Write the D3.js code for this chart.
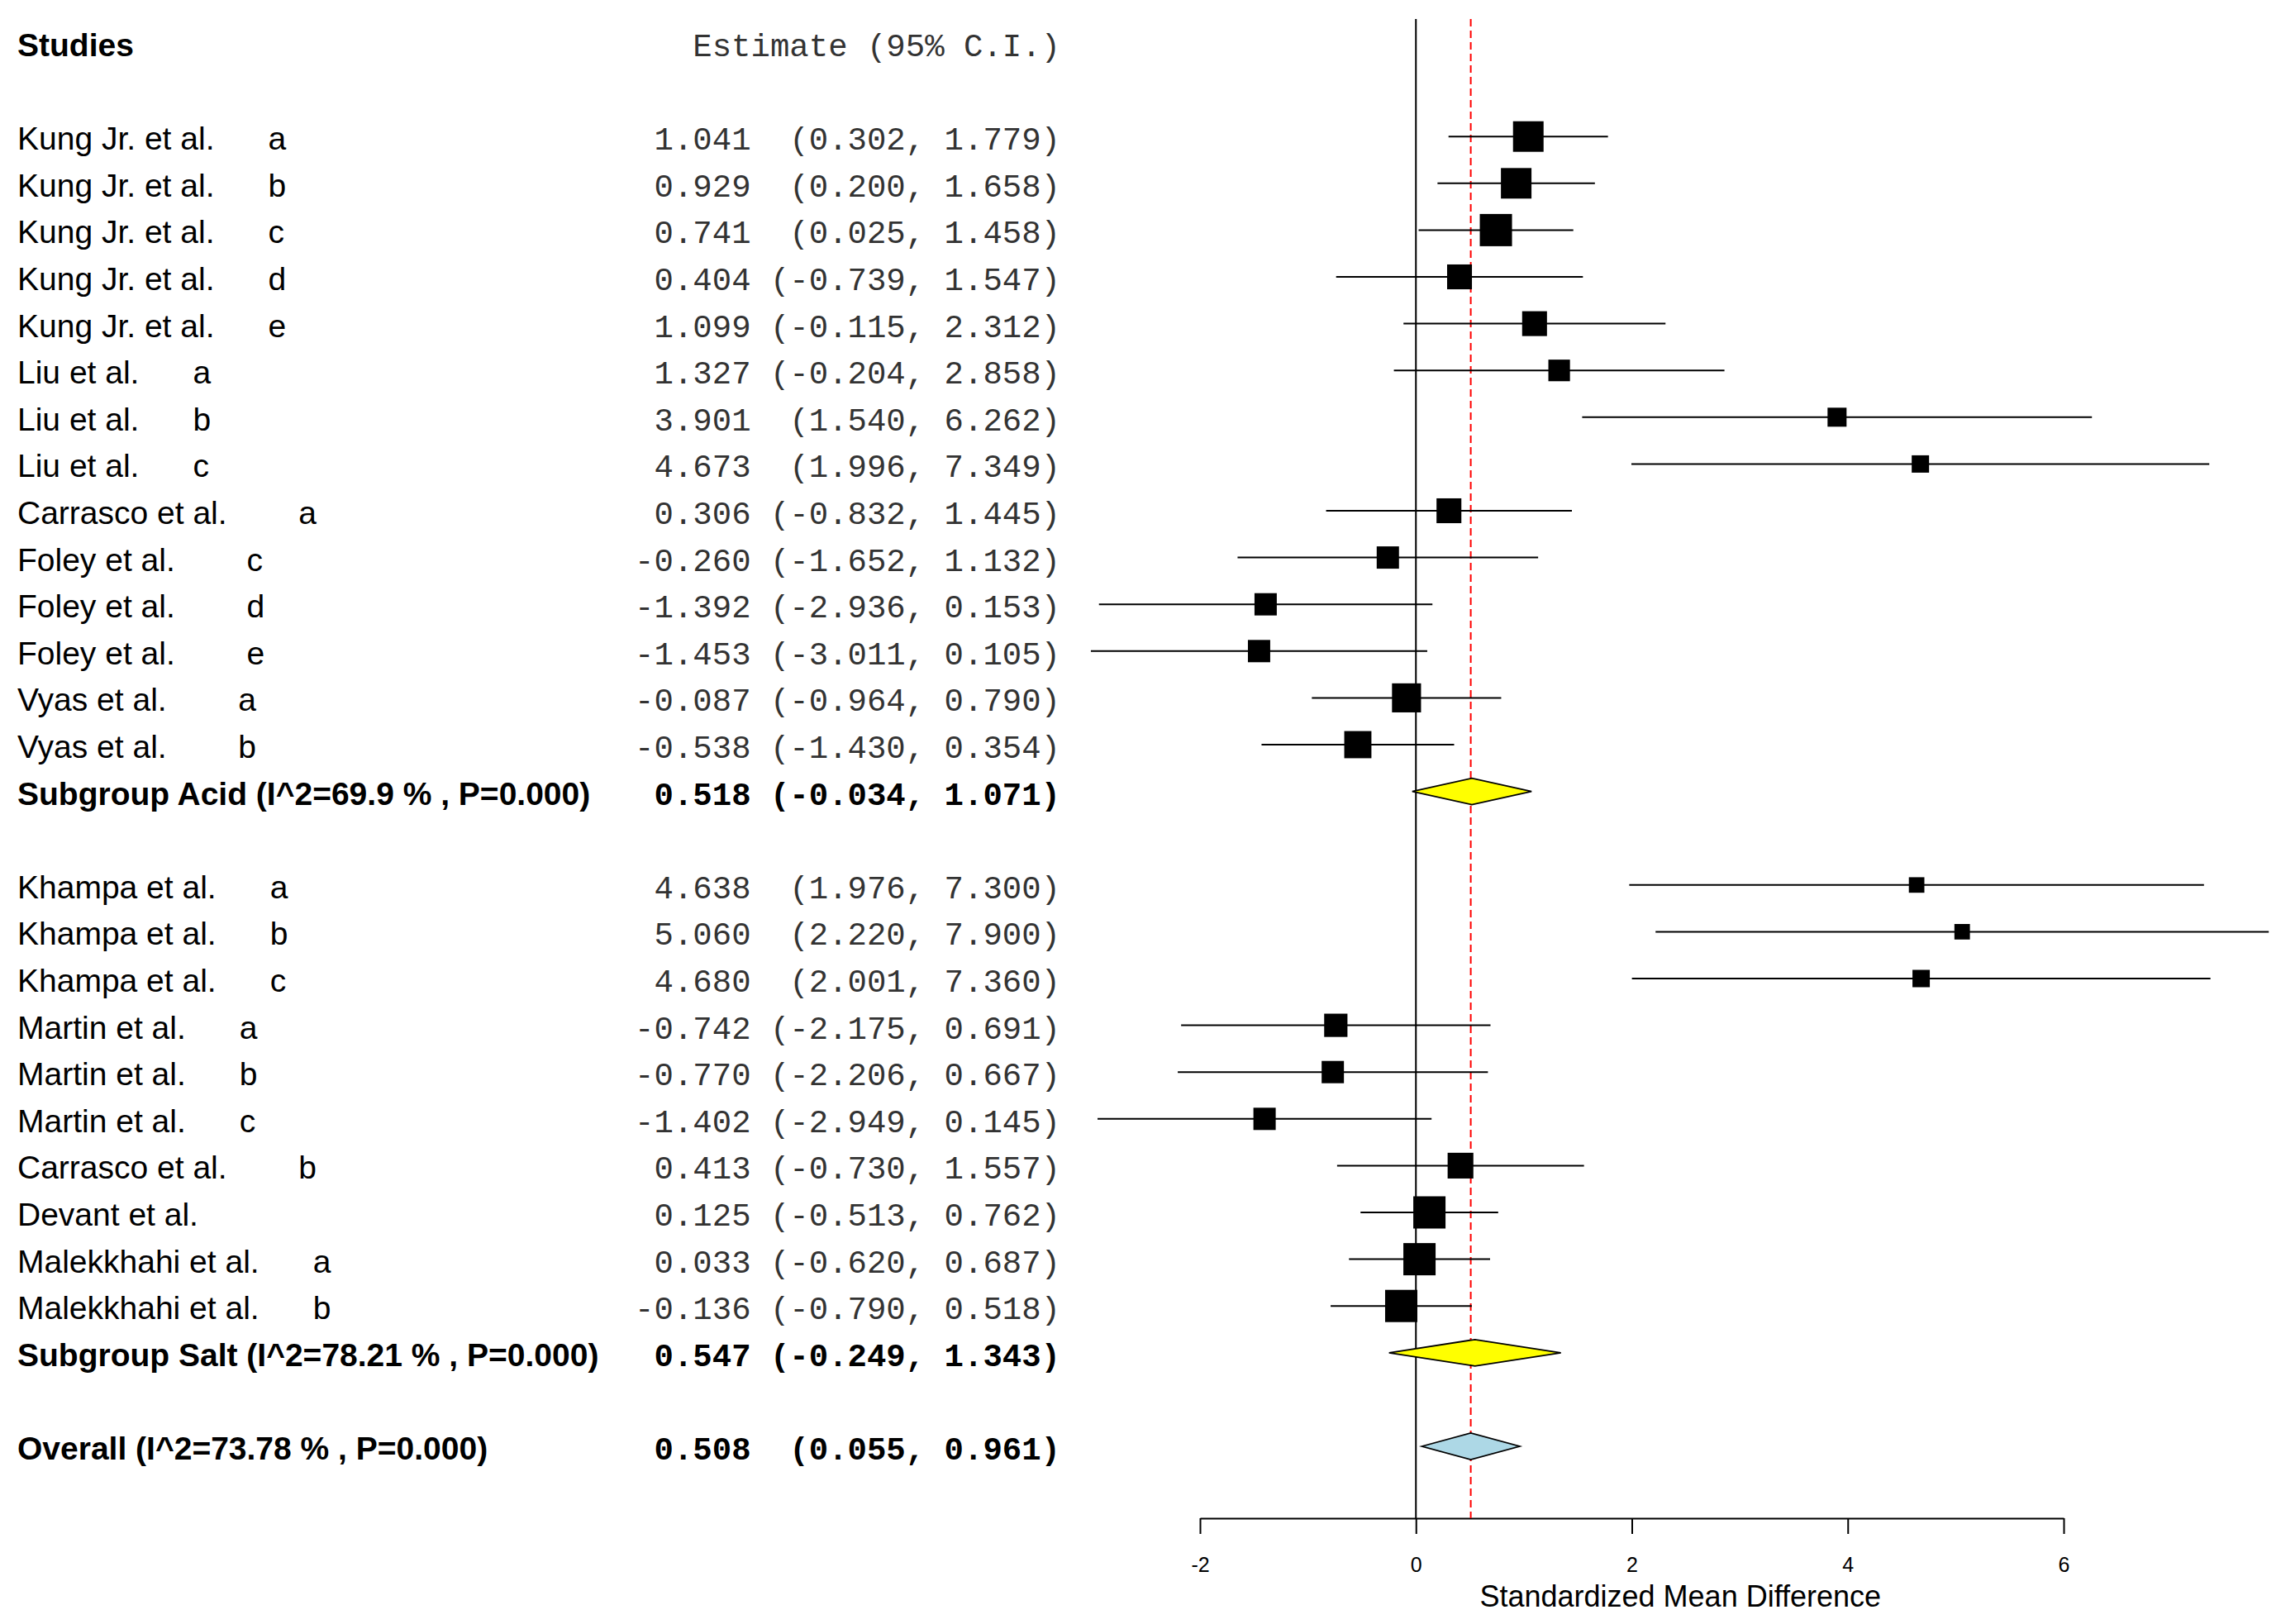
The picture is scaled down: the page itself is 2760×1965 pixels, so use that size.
<!DOCTYPE html>
<html>
<head>
<meta charset="utf-8">
<script src="https://cdn.jsdelivr.net/npm/d3@7"></script>
<style>
	body { margin: 0; background: #fff; }
	text { white-space: pre; }
</style>
</head>
<body>
<div id="forest"></div>
<script>

	// study labels (letter = sub-experiment), per subgroup
	var acidLabels = ["Kung Jr. et al.      a", "Kung Jr. et al.      b", "Kung Jr. et al.      c",
		"Kung Jr. et al.      d", "Kung Jr. et al.      e", "Liu et al.      a", "Liu et al.      b",
		"Liu et al.      c", "Carrasco et al.        a", "Foley et al.        c", "Foley et al.        d",
		"Foley et al.        e", "Vyas et al.        a", "Vyas et al.        b"];
	var acidEst = [1.041, 0.929, 0.741, 0.404, 1.099, 1.327, 3.901, 4.673, 0.306, -0.260, -1.392, -1.453, -0.087, -0.538];
	var acidLo  = [0.302, 0.200, 0.025, -0.739, -0.115, -0.204, 1.540, 1.996, -0.832, -1.652, -2.936, -3.011, -0.964, -1.430];
	var acidHi  = [1.779, 1.658, 1.458, 1.547, 2.312, 2.858, 6.262, 7.349, 1.445, 1.132, 0.153, 0.105, 0.790, 0.354];
	var acidWeight = [6.2, 6.2, 6.9, 4.1, 4.1, 3.1, 2.4, 2.0, 4.1, 3.3, 3.3, 3.3, 5.6, 4.9];

	var saltLabels = ["Khampa et al.      a", "Khampa et al.      b", "Khampa et al.      c",
		"Martin et al.      a", "Martin et al.      b", "Martin et al.      c", "Carrasco et al.        b",
		"Devant et al.", "Malekkhahi et al.      a", "Malekkhahi et al.      b"];
	var saltEst = [4.638, 5.060, 4.680, -0.742, -0.770, -1.402, 0.413, 0.125, 0.033, -0.136];
	var saltLo  = [1.976, 2.220, 2.001, -2.175, -2.206, -2.949, -0.730, -0.513, -0.620, -0.790];
	var saltHi  = [7.300, 7.900, 7.360, 0.691, 0.667, 0.145, 1.557, 0.762, 0.687, 0.518];
	var saltWeight = [1.6, 1.6, 2.0, 3.6, 3.3, 3.3, 4.4, 6.9, 6.9, 6.9];

	// pooled rows: label, estimate, lower, upper, fill
	var summaryLabels = ["Subgroup Acid (I^2=69.9 % , P=0.000)", "Subgroup Salt (I^2=78.21 % , P=0.000)", "Overall (I^2=73.78 % , P=0.000)"];
	var summaryEst = [0.518, 0.547, 0.508];
	var summaryLo  = [-0.034, -0.249, 0.055];
	var summaryHi  = [1.071, 1.343, 0.961];
	var summaryFill = ["#ffff00", "#ffff00", "#add8e6"];

	var xTicks = [-2, 0, 2, 4, 6];
	var xTitle = "Standardized Mean Difference";

	var w = 2760, h = 1965;

	var svg = d3.select("#forest")
		.append("svg")
		.attr("width", w)
		.attr("height", h)
		.attr("viewBox", "0 0 " + w + " " + h);

	// row layout: 0 header, 1 blank, 2-15 acid, 16 acid pooled, 17 blank, 18-27 salt, 28 salt pooled, 29 blank, 30 overall
	var y = d3.scaleLinear().domain([0, 30]).range([52, 1750]);
	var x = d3.scaleLinear().domain([-2, 6]).range([1452, 2497]);
	var side = d3.scaleSqrt().domain([0, 6.9]).range([0, 39]);

	var studies = [];
	for (var i = 0; i < acidLabels.length; i++) {
		studies.push({label: acidLabels[i], est: acidEst[i], lo: acidLo[i], hi: acidHi[i], wt: acidWeight[i], row: 2 + i});
	}
	for (var j = 0; j < saltLabels.length; j++) {
		studies.push({label: saltLabels[j], est: saltEst[j], lo: saltLo[j], hi: saltHi[j], wt: saltWeight[j], row: 18 + j});
	}
	var summaryRows = [16, 28, 30];
	var summaries = summaryLabels.map(function(l, k) {
		return {label: l, est: summaryEst[k], lo: summaryLo[k], hi: summaryHi[k], fill: summaryFill[k], row: summaryRows[k]};
	});

	var ciText = function(d) {
		return d.est.toFixed(3).padStart(6) + " " + ("(" + d.lo.toFixed(3)).padStart(7) + ", " + d.hi.toFixed(3).padStart(5) + ")";
	};

	var sans = "'Liberation Sans', Arial, sans-serif";
	var mono = "'Liberation Mono', 'Courier New', monospace";
	var fs = 39;
	var colRight = 1283;

	// headers
	svg.append("text")
		.attr("x", 21).attr("y", y(0) + 16)
		.style("font-family", sans).style("font-size", fs + "px").style("font-weight", "bold")
		.text("Studies");
	svg.append("text")
		.attr("x", colRight).attr("y", y(0) + 16)
		.attr("text-anchor", "end")
		.style("font-family", mono).style("font-size", fs + "px").style("fill", "#333")
		.text("Estimate (95% C.I.)");

	// left columns
	var labelG = svg.append("g").attr("id", "labels");
	labelG.selectAll("text.study")
		.data(studies)
		.enter()
		.append("text")
		.attr("class", "study")
		.attr("x", 21)
		.attr("y", function(d) { return y(d.row) + 16; })
		.style("font-family", sans).style("font-size", fs + "px")
		.text(function(d) { return d.label; });
	labelG.selectAll("text.ci")
		.data(studies)
		.enter()
		.append("text")
		.attr("class", "ci")
		.attr("x", colRight)
		.attr("y", function(d) { return y(d.row) + 16; })
		.attr("text-anchor", "end")
		.style("font-family", mono).style("font-size", fs + "px").style("fill", "#333")
		.text(ciText);
	labelG.selectAll("text.sumlabel")
		.data(summaries)
		.enter()
		.append("text")
		.attr("class", "sumlabel")
		.attr("x", 21)
		.attr("y", function(d) { return y(d.row) + 16; })
		.style("font-family", sans).style("font-size", fs + "px").style("font-weight", "bold")
		.text(function(d) { return d.label; });
	labelG.selectAll("text.sumci")
		.data(summaries)
		.enter()
		.append("text")
		.attr("class", "sumci")
		.attr("x", colRight)
		.attr("y", function(d) { return y(d.row) + 16; })
		.attr("text-anchor", "end")
		.style("font-family", mono).style("font-size", fs + "px").style("font-weight", "bold")
		.text(ciText);

	// axis
	var axisY = 1837;
	var axis = svg.append("g")
		.attr("transform", "translate(0," + axisY + ")")
		.call(d3.axisBottom(x).tickValues(xTicks).tickFormat(function(d) { return String(d); })
			.tickSize(19).tickSizeOuter(0).tickPadding(28));
	axis.select(".domain").attr("stroke", "#000").attr("stroke-width", 2);
	axis.selectAll(".tick line").attr("stroke", "#000").attr("stroke-width", 2);
	axis.selectAll(".tick text")
		.attr("fill", "#000")
		.style("font-family", sans).style("font-size", "25px");
	svg.append("text")
		.attr("x", x(2.45)).attr("y", 1944)
		.attr("text-anchor", "middle")
		.style("font-family", sans).style("font-size", "36px")
		.text(xTitle);

	// reference lines
	svg.append("line")
		.attr("x1", x(0)).attr("x2", x(0))
		.attr("y1", 23).attr("y2", axisY)
		.attr("stroke", "#000").attr("stroke-width", 2);
	svg.append("line")
		.attr("x1", x(summaryEst[2])).attr("x2", x(summaryEst[2]))
		.attr("y1", 23).attr("y2", axisY)
		.attr("stroke", "#ff0000").attr("stroke-width", 2)
		.attr("stroke-dasharray", "9,5");

	// study CIs and boxes
	var marks = svg.append("g").attr("id", "marks");
	marks.selectAll("line.ci")
		.data(studies)
		.enter()
		.append("line")
		.attr("class", "ci")
		.attr("x1", function(d) { return x(d.lo); })
		.attr("x2", function(d) { return x(d.hi); })
		.attr("y1", function(d) { return y(d.row); })
		.attr("y2", function(d) { return y(d.row); })
		.attr("stroke", "#000").attr("stroke-width", 2);
	marks.selectAll("rect")
		.data(studies)
		.enter()
		.append("rect")
		.attr("x", function(d) { return x(d.est) - side(d.wt) / 2; })
		.attr("y", function(d) { return y(d.row) - side(d.wt) / 2; })
		.attr("width", function(d) { return side(d.wt); })
		.attr("height", function(d) { return side(d.wt); })
		.attr("fill", "#000");

	// pooled diamonds
	marks.selectAll("path.diamond")
		.data(summaries)
		.enter()
		.append("path")
		.attr("class", "diamond")
		.attr("d", function(d) {
			var cy = y(d.row), hh = 16;
			return "M" + x(d.lo) + "," + cy + "L" + x(d.est) + "," + (cy - hh) +
				"L" + x(d.hi) + "," + cy + "L" + x(d.est) + "," + (cy + hh) + "Z";
		})
		.attr("fill", function(d) { return d.fill; })
		.attr("stroke", "#000").attr("stroke-width", 1.8);

</script>
</body>
</html>
